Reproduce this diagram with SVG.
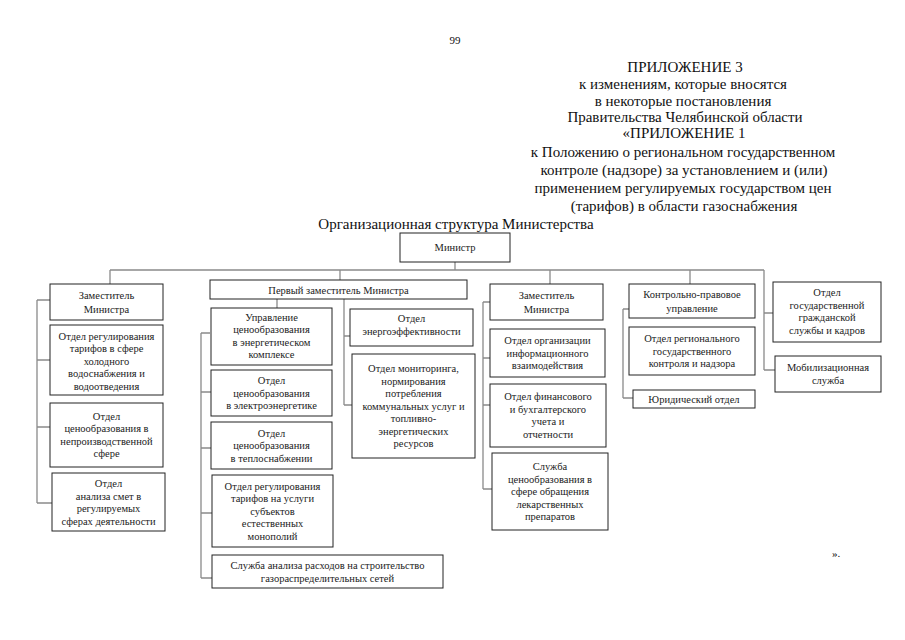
<svg xmlns="http://www.w3.org/2000/svg" width="905" height="640" viewBox="0 0 905 640">
<style>
.bg{fill:#fff}
.box{fill:#fff;stroke:#222;stroke-width:1}
.t{font-family:"Liberation Serif","Times New Roman",serif;font-size:10.5px;fill:#222;text-anchor:middle}
.h{font-family:"Liberation Serif","Times New Roman",serif;font-size:15px;fill:#111;text-anchor:middle}
.c{fill:none;stroke:#8a8a8a;stroke-width:1.3}
</style>
<rect class="bg" x="0" y="0" width="905" height="640"/>
<g id="header">
<text class="h" x="455" y="44" style="font-size:11px">99</text>
<text class="h" x="685" y="72">ПРИЛОЖЕНИЕ 3</text>
<text class="h" x="683" y="89">к изменениям, которые вносятся</text>
<text class="h" x="683" y="106">в некоторые постановления</text>
<text class="h" x="685" y="122">Правительства Челябинской области</text>
<text class="h" x="684" y="138">«ПРИЛОЖЕНИЕ 1</text>
<text class="h" x="683" y="157">к Положению о региональном государственном</text>
<text class="h" x="684" y="175">контроле (надзоре) за установлением и (или)</text>
<text class="h" x="683" y="193">применением регулируемых государством цен</text>
<text class="h" x="684" y="211">(тарифов) в области газоснабжения</text>
<text class="h" x="456" y="229">Организационная структура Министерства</text>
<text class="h" x="836" y="557" style="font-size:11px">».</text>
</g>
<g id="connectors">
<path class="c" d="M455 262V270M110 270H764M110 270V284M340 270V280M550 270V284M690 270V284M764 270V370M764 313H773M764 370H775"/>
<path class="c" d="M37 300V503M37 300H50M37 360H50M37 427H50M37 503H52"/>
<path class="c" d="M277 299V308M201 333V578M201 333H210M201 392H211M201 448H211M201 513H212M201 578H212"/>
<path class="c" d="M344 299V405M344 336H350M344 405H352"/>
<path class="c" d="M483 302V489M483 302H490M483 358H490M483 405H490M483 489H492"/>
<path class="c" d="M623 309V398M623 309H629M623 398H633"/>
</g>
<g id="minister"><rect class="box" x="400" y="233" width="110" height="29"/><text class="t" x="455" y="251">Министр</text></g>
<g id="deputy-left"><rect class="box" x="50" y="284" width="113" height="36"/><text class="t" x="106.5" y="298.5">Заместитель</text><text class="t" x="106.5" y="312.5">Министра</text></g>
<g id="dept-water"><rect class="box" x="50" y="325" width="113" height="70"/><text class="t" x="106.5" y="339.7">Отдел регулирования</text><text class="t" x="106.5" y="352.2">тарифов в сфере</text><text class="t" x="106.5" y="364.7">холодного</text><text class="t" x="106.5" y="377.2">водоснабжения и</text><text class="t" x="106.5" y="389.7">водоотведения</text></g>
<g id="dept-nonprod"><rect class="box" x="50" y="403" width="113" height="64"/><text class="t" x="106.5" y="419.5">Отдел</text><text class="t" x="106.5" y="432">ценообразования в</text><text class="t" x="106.5" y="444.5">непроизводственной</text><text class="t" x="106.5" y="457">сфере</text></g>
<g id="dept-estimates"><rect class="box" x="52" y="473" width="113" height="58"/><text class="t" x="108.5" y="487">Отдел</text><text class="t" x="108.5" y="499.5">анализа смет в</text><text class="t" x="108.5" y="512">регулируемых</text><text class="t" x="108.5" y="524.5">сферах деятельности</text></g>
<g id="first-deputy"><rect class="box" x="210" y="280" width="257" height="19"/><text class="t" x="338.5" y="293.5">Первый заместитель Министра</text></g>
<g id="dept-energy"><rect class="box" x="211" y="308" width="121" height="57"/><text class="t" x="271.5" y="320.5">Управление</text><text class="t" x="271.5" y="333">ценообразования</text><text class="t" x="271.5" y="345.5">в энергетическом</text><text class="t" x="271.5" y="358">комплексе</text></g>
<g id="dept-electro"><rect class="box" x="211" y="370" width="121" height="46"/><text class="t" x="271.5" y="384.2">Отдел</text><text class="t" x="271.5" y="396.7">ценообразования</text><text class="t" x="271.5" y="409.2">в электроэнергетике</text></g>
<g id="dept-heat"><rect class="box" x="211" y="422" width="121" height="47"/><text class="t" x="271.5" y="436.7">Отдел</text><text class="t" x="271.5" y="449.2">ценообразования</text><text class="t" x="271.5" y="461.7">в теплоснабжении</text></g>
<g id="dept-monopoly"><rect class="box" x="212" y="475" width="121" height="72"/><text class="t" x="272.5" y="489.7">Отдел регулирования</text><text class="t" x="272.5" y="502.2">тарифов на услуги</text><text class="t" x="272.5" y="514.7">субъектов</text><text class="t" x="272.5" y="527.2">естественных</text><text class="t" x="272.5" y="539.7">монополий</text></g>
<g id="service-gas"><rect class="box" x="212" y="555" width="231" height="33"/><text class="t" x="327.5" y="569">Служба анализа расходов на строительство</text><text class="t" x="327.5" y="581.5">газораспределительных сетей</text></g>
<g id="dept-efficiency"><rect class="box" x="350" y="309" width="123" height="37"/><text class="t" x="411.5" y="322">Отдел</text><text class="t" x="411.5" y="334.5">энергоэффективности</text></g>
<g id="dept-monitoring"><rect class="box" x="352" y="354" width="123" height="104"/><text class="t" x="413.5" y="372.2">Отдел мониторинга,</text><text class="t" x="413.5" y="384.7">нормирования</text><text class="t" x="413.5" y="397.2">потребления</text><text class="t" x="413.5" y="409.7">коммунальных услуг и</text><text class="t" x="413.5" y="422.2">топливно-</text><text class="t" x="413.5" y="434.7">энергетических</text><text class="t" x="413.5" y="447.2">ресурсов</text></g>
<g id="deputy-mid"><rect class="box" x="490" y="284" width="113" height="36"/><text class="t" x="546.5" y="298.5">Заместитель</text><text class="t" x="546.5" y="312.5">Министра</text></g>
<g id="dept-info"><rect class="box" x="490" y="329" width="115" height="48"/><text class="t" x="547.5" y="344.2">Отдел организации</text><text class="t" x="547.5" y="356.7">информационного</text><text class="t" x="547.5" y="369.2">взаимодействия</text></g>
<g id="dept-finance"><rect class="box" x="490" y="384" width="116" height="63"/><text class="t" x="548" y="400">Отдел финансового</text><text class="t" x="548" y="412.5">и бухгалтерского</text><text class="t" x="548" y="425">учета и</text><text class="t" x="548" y="437.5">отчетности</text></g>
<g id="service-drugs"><rect class="box" x="492" y="453" width="116" height="77"/><text class="t" x="550" y="470.2">Служба</text><text class="t" x="550" y="482.7">ценообразования в</text><text class="t" x="550" y="495.2">сфере обращения</text><text class="t" x="550" y="507.7">лекарственных</text><text class="t" x="550" y="520.2">препаратов</text></g>
<g id="control-legal"><rect class="box" x="629" y="284" width="126" height="34"/><text class="t" x="692" y="298">Контрольно-правовое</text><text class="t" x="692" y="311.5">управление</text></g>
<g id="dept-regional"><rect class="box" x="629" y="327" width="126" height="48"/><text class="t" x="692" y="342.2">Отдел регионального</text><text class="t" x="692" y="354.7">государственного</text><text class="t" x="692" y="367.2">контроля и надзора</text></g>
<g id="dept-legal"><rect class="box" x="633" y="390" width="122" height="18"/><text class="t" x="694" y="402.7">Юридический отдел</text></g>
<g id="dept-civil"><rect class="box" x="773" y="282" width="108" height="60"/><text class="t" x="827" y="296">Отдел</text><text class="t" x="827" y="308.5">государственной</text><text class="t" x="827" y="321">гражданской</text><text class="t" x="827" y="333.5">службы и кадров</text></g>
<g id="service-mobil"><rect class="box" x="775" y="356" width="106" height="36"/><text class="t" x="828" y="370.5">Мобилизационная</text><text class="t" x="828" y="383.5">служба</text></g>
</svg>
